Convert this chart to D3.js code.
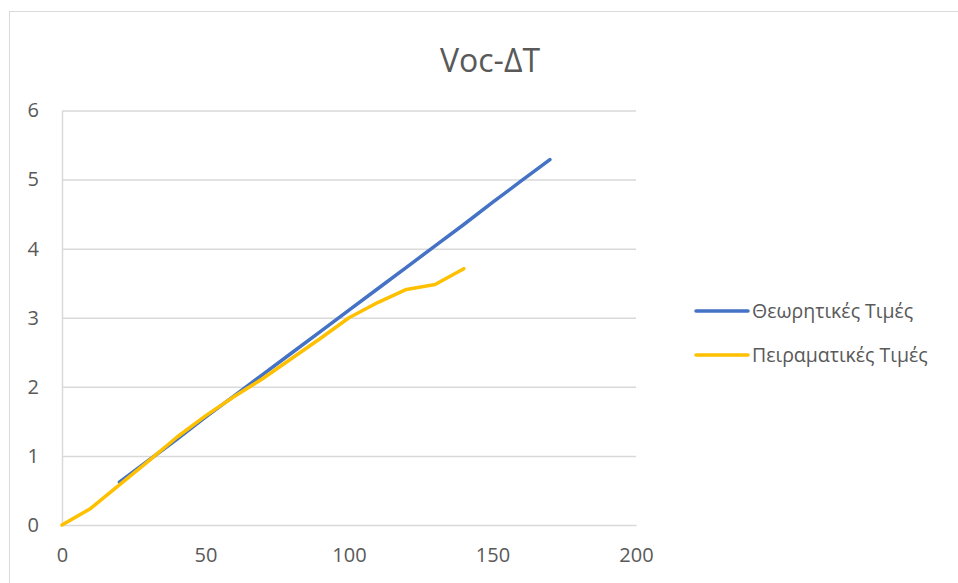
<!DOCTYPE html>
<html>
<head>
<meta charset="utf-8">
<script src="https://cdn.jsdelivr.net/npm/d3@7"></script>
<style>
  html, body { margin: 0; padding: 0; background: #fff; }
  svg { display: block; }
  text { font-family: "Open Sans", "Liberation Sans", sans-serif; fill: #595959; }
</style>
</head>
<body>
<svg id="chart" width="958" height="583"></svg>
<script>
// Temperature difference ΔT (x) and open-circuit voltage Voc (y)
const theoryDT = [20, 30, 40, 50, 60, 70, 80, 90, 100, 110, 120, 130, 140, 150, 160, 170];
const theoryVoc = [0.62, 0.93, 1.24, 1.56, 1.87, 2.18, 2.49, 2.80, 3.11, 3.42, 3.73, 4.04, 4.35, 4.67, 4.98, 5.29];

const measuredDT = [0, 10, 20, 30, 40, 50, 60, 70, 80, 90, 100, 110, 120, 130, 140];
const measuredVoc = [0, 0.24, 0.58, 0.92, 1.27, 1.58, 1.86, 2.12, 2.41, 2.70, 3.00, 3.22, 3.41, 3.48, 3.71];

const seriesNames = ["Θεωρητικές Τιμές", "Πειραματικές Τιμές"];
const seriesColors = ["#4472C4", "#FFC000"];
const xTicks = [0, 50, 100, 150, 200];
const yTicks = [0, 1, 2, 3, 4, 5, 6];
const title = "Voc-ΔT";

const svg = d3.select("#chart");
const fontStack = "'Open Sans', 'Liberation Sans', sans-serif";

// chart frame
svg.append("rect")
  .attr("x", 9.5).attr("y", 11.5)
  .attr("width", 960).attr("height", 600)
  .attr("fill", "none").attr("stroke", "#d9d9d9").attr("stroke-width", 1);

const x = d3.scaleLinear().domain([0, 200]).range([62, 636]);
const y = d3.scaleLinear().domain([0, 6]).range([525, 110.5]);

// horizontal gridlines
svg.append("g")
  .attr("transform", `translate(${x(0)},0)`)
  .call(d3.axisLeft(y).tickValues(yTicks.filter(d => d > 0)).tickSize(-(x(200) - x(0))).tickFormat(""))
  .call(g => g.select(".domain").remove())
  .call(g => g.selectAll("line").attr("stroke", "#d9d9d9").attr("stroke-width", 1.5));

// y axis labels
svg.append("g")
  .attr("transform", `translate(${x(0)},0)`)
  .call(d3.axisLeft(y).tickValues(yTicks).tickFormat(d3.format("d")).tickSize(0).tickPadding(23))
  .call(g => g.select(".domain").attr("stroke", "#d9d9d9").attr("stroke-width", 1.5))
  .call(g => g.selectAll("text").attr("font-size", 20).attr("fill", "#595959")
    .style("font-family", fontStack));

// x axis
svg.append("g")
  .attr("transform", `translate(0,${y(0)})`)
  .call(d3.axisBottom(x).tickValues(xTicks).tickFormat(d3.format("d")).tickSize(0).tickPadding(23))
  .call(g => g.select(".domain").attr("stroke", "#d9d9d9").attr("stroke-width", 1.5))
  .call(g => g.selectAll("text").attr("font-size", 20).attr("fill", "#595959")
    .style("font-family", fontStack));

const line = d3.line().x(d => x(d[0])).y(d => y(d[1]));

const series = [
  d3.zip(theoryDT, theoryVoc),
  d3.zip(measuredDT, measuredVoc)
];

series.forEach((pts, i) => {
  svg.append("path")
    .datum(pts)
    .attr("d", line)
    .attr("fill", "none")
    .attr("stroke", seriesColors[i])
    .attr("stroke-width", 3.5)
    .attr("stroke-linecap", "round")
    .attr("stroke-linejoin", "round");
});

// title
svg.append("text")
  .attr("x", 490).attr("y", 72)
  .attr("text-anchor", "middle")
  .attr("font-size", 32)
  .text(title);

// legend
const legend = svg.append("g");
seriesNames.forEach((name, i) => {
  const ly = 311 + i * 44;
  legend.append("line")
    .attr("x1", 696).attr("x2", 748)
    .attr("y1", ly).attr("y2", ly)
    .attr("stroke", seriesColors[i]).attr("stroke-width", 3.5)
    .attr("stroke-linecap", "round");
  legend.append("text")
    .attr("x", 752).attr("y", ly)
    .attr("dy", "0.35em")
    .attr("font-size", 19.5)
    .text(name);
});
</script>
</body>
</html>
